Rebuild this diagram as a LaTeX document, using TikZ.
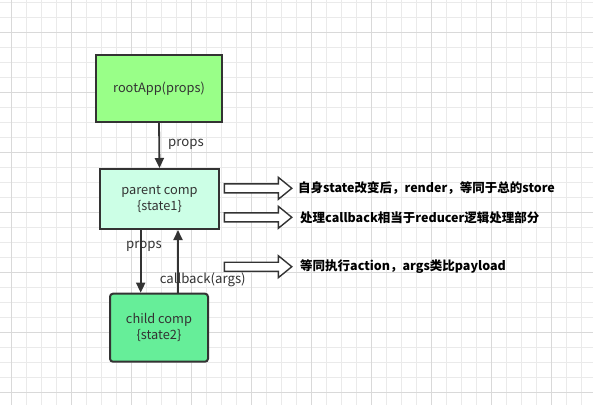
\documentclass[tikz,border=0pt]{standalone}
\usepackage{fontspec}
\setmainfont{Noto Sans CJK SC}
\usetikzlibrary{arrows.meta}
\definecolor{gridminor}{HTML}{EAEAEA}
\definecolor{gridmajor}{HTML}{D9D9D9}
\definecolor{ink}{HTML}{333333}
\definecolor{rootfill}{HTML}{99FF88}
\definecolor{parentfill}{HTML}{CCFFE6}
\definecolor{childfill}{HTML}{66EE99}
\tikzset{
  box/.style={draw=ink, line width=2pt, text=ink, align=center, font=\fontsize{12.8}{16}\selectfont},
  flow/.style={draw=ink, line width=1.8pt, -{Triangle[length=10pt,width=9pt]}},
  lbl/.style={text=ink, font=\fontsize{13.2}{15}\selectfont, inner sep=0pt},
  note/.style={text=black, font=\fontsize{12.5}{14}\selectfont\bfseries, anchor=west, inner sep=0pt},
  blockarrow/.style={draw=ink, line width=1.4pt, fill=white, line join=miter}
}
\newcommand{\blockarr}[2]{%
  \draw[blockarrow] (#1,#2-4.5) -- (#1+54,#2-4.5) -- (#1+54,#2-11) -- (#1+67.5,#2) -- (#1+54,#2+11) -- (#1+54,#2+4.5) -- (#1,#2+4.5) -- cycle;}
\begin{document}
\begin{tikzpicture}[x=1pt,y=-1pt]
\useasboundingbox (0,0) rectangle (593,405);
\fill[white] (0,0) rectangle (593,405);
% grid
\foreach \i in {0,...,38} {\draw[gridminor, line width=0.8pt] (11.7+15*\i,0) -- (11.7+15*\i,405);}
\foreach \j in {0,...,26} {\draw[gridminor, line width=0.8pt] (0,2.3+15*\j) -- (593,2.3+15*\j);}
\foreach \i in {0,...,9} {\draw[gridmajor, line width=0.8pt] (11.7+60*\i,0) -- (11.7+60*\i,405);}
\foreach \j in {0,...,6} {\draw[gridmajor, line width=0.8pt] (0,32.3+60*\j) -- (593,32.3+60*\j);}
% nodes
\node[box, fill=rootfill, minimum width=126pt, minimum height=67pt] (root) at (159,88.5) {rootApp(props)};
\node[box, fill=parentfill, minimum width=119pt, minimum height=60pt] (parent) at (159.5,199) {parent comp\\\{state1\}};
\node[box, fill=childfill, rounded corners=3pt, minimum width=98pt, minimum height=68pt] (child) at (159,327.7) {child comp\\\{state2\}};
% connectors
\draw[flow] (root.south) -- (parent.north);
\draw[flow] ([xshift=-18.8pt]parent.south) -- ([xshift=-18.3pt]child.north);
\draw[flow] ([xshift=19pt]child.north) -- ([xshift=18.5pt]parent.south);
% labels
\node[lbl] (lp1) at (186,144) {props};
\node[lbl] (lp2) at (144,246) {props};
\node[lbl] (lcb) at (202.7,280) {callback(args)};
% block arrows and notes
\blockarr{224.3}{188.3}
\blockarr{224.3}{217.3}
\blockarr{224.3}{266.7}
\node[note] (n1) at (298,188.3) {自身state改变后，render，等同于总的store};
\node[note] (n2) at (300,217.3) {处理callback相当于reducer逻辑处理部分};
\node[note] (n3) at (300,266.7) {等同执行action，args类比payload};
\end{tikzpicture}
\end{document}
